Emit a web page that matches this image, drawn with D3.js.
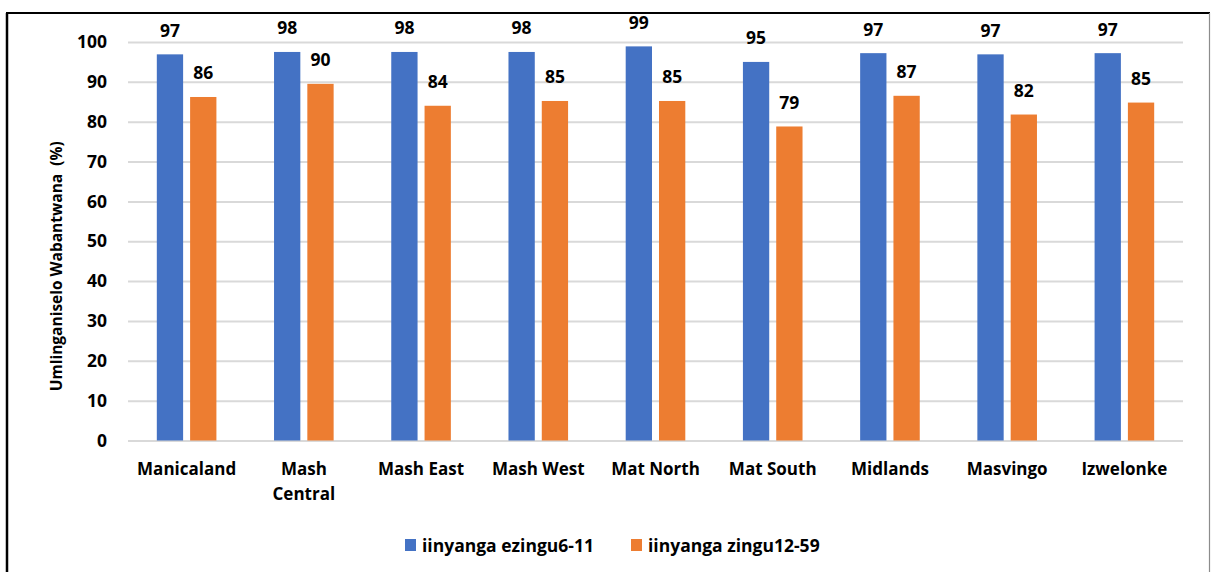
<!DOCTYPE html>
<html>
<head>
<meta charset="utf-8">
<script src="https://cdn.jsdelivr.net/npm/d3@7"></script>
<style>
  html, body { margin: 0; padding: 0; background: #fff; }
  svg { display: block; }
  svg text { font-family: "Open Sans", Lato, sans-serif; font-weight: 700; }
</style>
</head>
<body>
<svg id="chart" width="1211" height="572"></svg>
<script>
// Provinces along the x axis (multi-line names split on "\n")
const categories = ["Manicaland", "Mash\nCentral", "Mash East", "Mash West", "Mat North",
                    "Mat South", "Midlands", "Masvingo", "Izwelonke"];
// Coverage (%) by age group
const ages6to11  = [96.9, 97.5, 97.5, 97.5, 98.9, 95.0, 97.2, 96.9, 97.2];
const ages12to59 = [86.2, 89.5, 84.0, 85.2, 85.2, 78.8, 86.5, 81.8, 84.8];
const seriesNames = ["iinyanga ezingu6-11", "iinyanga zingu12-59"];
const seriesColors = ["#4472C4", "#ED7D31"];
const yTicks = [0, 10, 20, 30, 40, 50, 60, 70, 80, 90, 100];
const yTitle = "Umlinganiselo Wabantwana  (%)";

const svg = d3.select("#chart");
const plot = { left: 128, right: 1183, top: 42, bottom: 440.5 };
const FONT = "'Open Sans', Lato, sans-serif";

// Frame around the chart
svg.append("line").attr("x1", 7).attr("x2", 7).attr("y1", 13).attr("y2", 572)
  .attr("stroke", "#000").attr("stroke-width", 2.5);
svg.append("line").attr("x1", 6).attr("x2", 1210).attr("y1", 13).attr("y2", 13)
  .attr("stroke", "#000").attr("stroke-width", 2);
svg.append("line").attr("x1", 1209.5).attr("x2", 1209.5).attr("y1", 13).attr("y2", 572)
  .attr("stroke", "#8c8c8c").attr("stroke-width", 1.2);

const x = d3.scaleBand().domain(categories).range([plot.left, plot.right]);
const y = d3.scaleLinear().domain([0, 100]).range([plot.bottom, plot.top]);

const barW = 26.3, gap = 7;

// Gridlines and y tick labels
const yAxis = d3.axisLeft(y).tickValues(yTicks).tickSize(-(plot.right - plot.left)).tickPadding(21);
const gy = svg.append("g").attr("transform", `translate(${plot.left},0)`).call(yAxis)
  .attr("font-family", FONT).attr("font-size", 17.5);
gy.select(".domain").remove();
gy.selectAll(".tick line").attr("stroke", "#d9d9d9").attr("stroke-width", 2);
gy.selectAll(".tick text").attr("font-weight", 700).attr("fill", "#000");

// Category labels
const gx = svg.append("g").attr("transform", `translate(0,${plot.bottom})`)
  .call(d3.axisBottom(x).tickSize(0).tickFormat(""))
  .attr("font-family", FONT).attr("font-size", 17);
gx.select(".domain").remove();
gx.selectAll(".tick").each(function(d) {
  const lines = d.split("\n");
  const t = d3.select(this).append("text").attr("text-anchor", "middle")
    .attr("font-weight", 700).attr("fill", "#000");
  lines.forEach((ln, i) => t.append("tspan").attr("x", 0).attr("y", 34.5 + i * 25).text(ln));
});

// Bars with value labels
const series = [ages6to11, ages12to59];
series.forEach((vals, si) => {
  const offset = si === 0 ? -(barW + gap / 2) : gap / 2;
  const g = svg.append("g");
  g.selectAll("rect").data(vals).join("rect")
    .attr("x", (d, i) => x(categories[i]) + x.bandwidth() / 2 + offset)
    .attr("width", barW)
    .attr("y", d => y(d))
    .attr("height", d => y(0) - y(d))
    .attr("fill", seriesColors[si]);
  g.selectAll("text").data(vals).join("text")
    .attr("x", (d, i) => x(categories[i]) + x.bandwidth() / 2 + offset + barW / 2)
    .attr("y", d => y(d) - 17.5)
    .attr("text-anchor", "middle")
    .attr("font-size", 17.5).attr("fill", "#000")
    .text(d => d3.format(".0f")(d));
});

// Y axis title
svg.append("text")
  .attr("transform", `translate(62,${(plot.top + plot.bottom) / 2 + 25}) rotate(-90)`)
  .attr("text-anchor", "middle").attr("font-size", 15.5).attr("fill", "#000")
  .style("white-space", "pre")
  .text(yTitle);

// Legend
const legend = svg.append("g");
const legendX = [405, 631];
seriesNames.forEach((name, i) => {
  legend.append("rect").attr("x", legendX[i]).attr("y", 539).attr("width", 11).attr("height", 12)
    .attr("fill", seriesColors[i]);
  legend.append("text").attr("x", legendX[i] + 17).attr("y", 551.5)
    .attr("font-size", 17.5).attr("fill", "#000").text(name);
});
</script>
</body>
</html>
